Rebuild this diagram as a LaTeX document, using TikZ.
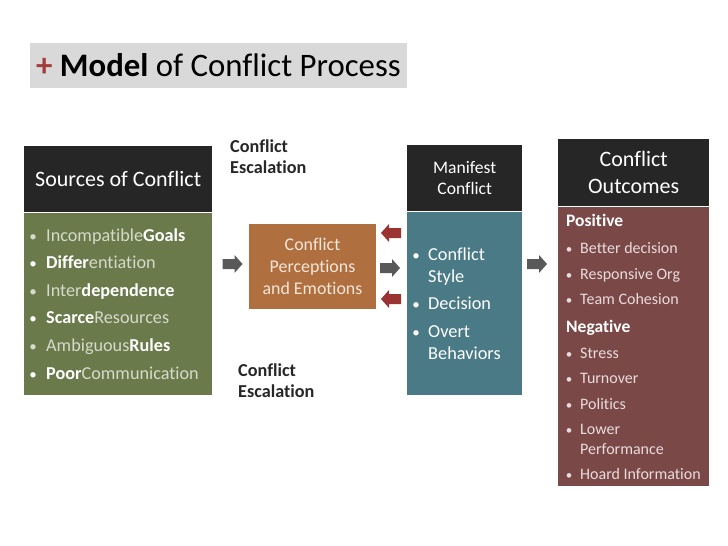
\documentclass[tikz,border=0pt]{standalone}
\usepackage{fontspec}
\setmainfont{Carlito}[Ligatures=NoCommon]
\usetikzlibrary{positioning}
\definecolor{cfBlack}{HTML}{262626}
\definecolor{cfGreen}{HTML}{6A7A4A}
\definecolor{cfOrange}{HTML}{B06F3F}
\definecolor{cfTeal}{HTML}{4A7A86}
\definecolor{cfMaroon}{HTML}{7B4848}
\definecolor{cfGrey}{HTML}{595959}
\definecolor{cfRed}{HTML}{9B3333}
\definecolor{cfTitle}{HTML}{D9D9D9}
\definecolor{cfPlus}{HTML}{A33B3B}
\definecolor{cfSoft}{HTML}{D6DACC}
\definecolor{cfCream}{HTML}{F3E6DA}
\definecolor{cfPink}{HTML}{E9DCDC}
\tikzset{
  hdr/.style={fill=cfBlack, text=white, align=center, inner sep=0pt, anchor=north west},
  panel/.style={inner sep=0pt, anchor=north},
  item/.style={text=white, inner sep=0pt, anchor=base west, font=\fontsize{18.2}{21}\selectfont},
  dot/.style={inner sep=0pt, anchor=base, font=\fontsize{15}{18}\selectfont},
  esc/.style={text=cfBlack, align=left, inner sep=0pt, anchor=west,
              font=\bfseries\fontsize{18.2}{21}\selectfont},
  barrow/.pic={\path[pic actions] (-10,-5) -- (2,-5) -- (2,-9) -- (10,0) -- (2,9) -- (2,5) -- (-10,5) -- cycle;},
}
\begin{document}
\begin{tikzpicture}[x=1pt,y=-1pt]
  \useasboundingbox (0,0) rectangle (728,546);
  % title
  \node[fill=cfTitle, inner sep=0pt, minimum width=377pt, minimum height=45pt,
        font=\fontsize{32.8}{38}\selectfont] (title) at (218.5,65.5)
        {{\color{cfPlus}\textbf{+}} \textbf{Model} of Conflict Process};
  % sources of conflict
  \node[hdr, minimum width=188pt, minimum height=66pt, font=\fontsize{22}{26}\selectfont]
        (srcHead) at (24,146) {Sources of Conflict};
  \node[panel, fill=cfGreen, minimum width=188pt, minimum height=182pt] (srcBody) at (srcHead.south) {};
  \foreach \i/\y/\b/\t in {
      1/241/cfSoft/{{\color{cfSoft}Incompatible}\textbf{Goals}},
      2/268/white/{\textbf{Differ}{\color{cfSoft}entiation}},
      3/296/cfSoft/{{\color{cfSoft}Inter}\textbf{dependence}},
      4/323/white/{\textbf{Scarce}{\color{cfSoft}Resources}},
      5/351/cfSoft/{{\color{cfSoft}Ambiguous}\textbf{Rules}},
      6/379/white/{\textbf{Poor}{\color{cfSoft}Communication}}}{
    \node[dot, text=\b] (srcDot-\i) at (33,\y) {\textbullet};
    \node[item] (srcItem-\i) at (46,\y) {\t};}
  % escalation labels
  \node[esc] (escTop) at (230,157) {Conflict\\Escalation};
  \node[esc] (escBot) at (238,381) {Conflict\\Escalation};
  % perceptions
  \node[inner sep=0pt, fill=cfOrange, minimum width=127pt, minimum height=85pt, text=cfCream,
        align=center, font=\fontsize{17.9}{22}\selectfont] (percep) at (312.5,266.5)
        {Conflict\\Perceptions\\and Emotions};
  % manifest conflict
  \node[hdr, minimum width=115pt, minimum height=66pt, font=\fontsize{17.6}{21}\selectfont]
        (manHead) at (407,145) {Manifest\\Conflict};
  \node[panel, fill=cfTeal, minimum width=115pt, minimum height=183pt] (manBody) at (manHead.south) {};
  \foreach \i/\y/\t in {1/260/Conflict,2/282/Style,3/309/Decision,4/337/Overt,5/359/Behaviors}
    \node[item, font=\fontsize{18.3}{21}\selectfont] (manItem-\i) at (428,\y) {\t};
  \foreach \i/\y in {1/260,3/309,4/337}
    \node[dot, text=white] (manDot-\i) at (416,\y) {\textbullet};
  % outcomes
  \node[hdr, minimum width=151pt, minimum height=67pt, font=\fontsize{22}{27}\selectfont]
        (outHead) at (558,139) {Conflict\\Outcomes};
  \node[panel, fill=cfMaroon, minimum width=151pt, minimum height=279pt] (outBody) at (outHead.south) {};
  \node[item, font=\bfseries\fontsize{17.5}{20}\selectfont] (outPos) at (566,226) {Positive};
  \node[item, font=\bfseries\fontsize{17.5}{20}\selectfont] (outNeg) at (566,332) {Negative};
  \foreach \i/\y/\t in {1/253/Better decision,2/279/Responsive Org,3/304/Team Cohesion,
      4/358/Stress,5/383/Turnover,6/409/Politics,7/434/Lower,8/479/Hoard Information}{
    \node[dot, text=cfPink, font=\fontsize{13}{15}\selectfont] (outDot-\i) at (569,\y) {\textbullet};
    \node[item, text=cfPink, font=\fontsize{16}{19}\selectfont] (outItem-\i) at (580,\y) {\t};}
  \node[item, text=cfPink, font=\fontsize{16}{19}\selectfont] (outItem-7b) at (580,454) {Performance};
  % block arrows
  \pic[fill=cfGrey] (arrSrc) at (232.5,264) {barrow};
  \pic[fill=cfGrey] (arrPer) at (390,268) {barrow};
  \pic[fill=cfGrey] (arrMan) at (537,264) {barrow};
  \foreach \y in {233,299}
    \pic[fill=cfRed, rotate=180] at (391,\y) {barrow};
\end{tikzpicture}
\end{document}
